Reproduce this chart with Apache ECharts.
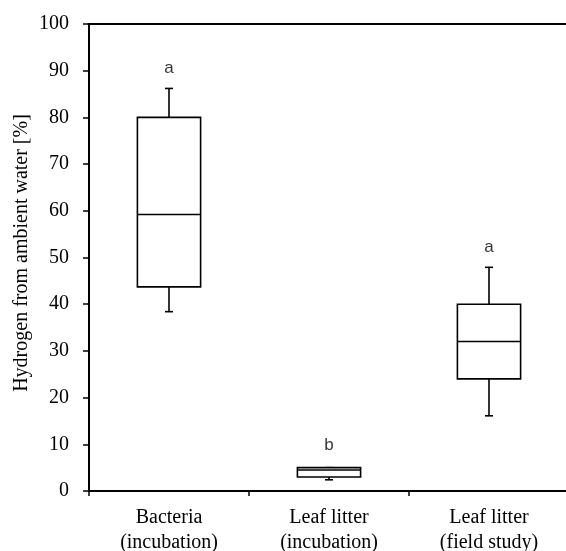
<!DOCTYPE html>
<html>
<head>
    <title>Hydrogen from ambient water</title>
    <script src="https://cdn.jsdelivr.net/npm/echarts@6/dist/echarts.min.js"></script>
    <style>body { margin: 0; background: #fff; }</style>
</head>
<body>
    <div id="chart" style="width: 566px; height: 551px;"></div>
    <script>
        // values
        var categories = ['Bacteria\n(incubation)', 'Leaf litter\n(incubation)', 'Leaf litter\n(field study)'];
        var whiskerLow = [38.4, 2.4, 16.1];
        var boxLow = [43.7, 3.0, 24.0];
        var medians = [59.2, 4.5, 32.0];
        var boxHigh = [80.0, 5.0, 40.0];
        var whiskerHigh = [86.2, 5.0, 47.9];
        var letters = ['a', 'b', 'a'];
        var letterY = [90.6, 9.8, 52.2];
        var yTicks = [0, 10, 20, 30, 40, 50, 60, 70, 80, 90, 100];

        var serif = '"Liberation Serif", "Times New Roman", serif';

        var boxData = categories.map(function (c, i) {
            return [i, whiskerLow[i], boxLow[i], medians[i], boxHigh[i], whiskerHigh[i]];
        });
        var letterData = categories.map(function (c, i) {
            return { value: [i, letterY[i]], label: { formatter: letters[i] } };
        });

        function renderBox(params, api) {
            var x = api.value(0);
            var pMin = api.coord([x, api.value(1)]);
            var pQ1 = api.coord([x, api.value(2)]);
            var pMed = api.coord([x, api.value(3)]);
            var pQ3 = api.coord([x, api.value(4)]);
            var pMax = api.coord([x, api.value(5)]);
            var half = api.size([1, 0])[0] * 0.395 / 2;
            var cap = 4;
            var cx = pMed[0];
            var st = { stroke: '#000', lineWidth: 1.6, fill: null };
            return {
                type: 'group',
                children: [
                    { type: 'line', shape: { x1: cx, y1: pQ3[1], x2: cx, y2: pMax[1] }, style: st },
                    { type: 'line', shape: { x1: cx - cap, y1: pMax[1], x2: cx + cap, y2: pMax[1] }, style: st },
                    { type: 'line', shape: { x1: cx, y1: pQ1[1], x2: cx, y2: pMin[1] }, style: st },
                    { type: 'line', shape: { x1: cx - cap, y1: pMin[1], x2: cx + cap, y2: pMin[1] }, style: st },
                    { type: 'rect', shape: { x: cx - half, y: pQ3[1], width: half * 2, height: pQ1[1] - pQ3[1] },
                      style: { stroke: '#000', lineWidth: 1.6, fill: '#fff' } },
                    { type: 'line', shape: { x1: cx - half, y1: pMed[1], x2: cx + half, y2: pMed[1] }, style: st }
                ]
            };
        }

        var chart = echarts.init(document.querySelector('#chart'));
        var option = {
            animation: false,
            grid: { left: 89, top: 24, width: 480, height: 467, containLabel: false, outerBoundsMode: 'none' },
            xAxis: [{
                type: 'category',
                data: categories,
                axisLine: { lineStyle: { color: '#000', width: 2 } },
                axisTick: { show: true, length: 5, lineStyle: { color: '#000', width: 1.5 } },
                axisLabel: { color: '#000', fontFamily: serif, fontSize: 20, lineHeight: 25, margin: 14 }
            }, {
                type: 'category',
                position: 'top',
                data: categories,
                axisLine: { lineStyle: { color: '#000', width: 2 } },
                axisTick: { show: false },
                axisLabel: { show: false }
            }],
            yAxis: {
                type: 'value',
                min: 0,
                max: 100,
                interval: 10,
                splitLine: { show: false },
                axisLine: { show: true, lineStyle: { color: '#000', width: 2 } },
                axisTick: { show: true, length: 6, lineStyle: { color: '#000', width: 1.5 } },
                axisLabel: {
                    color: '#000', fontFamily: serif, fontSize: 20, margin: 20,
                    formatter: function (v) { return yTicks.indexOf(v) >= 0 ? String(v) : ''; }
                }
            },
            graphic: [{
                type: 'text',
                x: 22,
                y: 253,
                rotation: Math.PI / 2,
                style: {
                    text: 'Hydrogen from ambient water [%]',
                    fill: '#000',
                    font: '20px ' + serif,
                    align: 'center',
                    verticalAlign: 'middle'
                }
            }],
            series: [{
                type: 'custom',
                renderItem: renderBox,
                encode: { x: 0, y: [1, 2, 3, 4, 5] },
                data: boxData
            }, {
                type: 'scatter',
                symbolSize: 0,
                data: letterData,
                label: {
                    show: true,
                    position: 'inside',
                    color: '#000',
                    fontFamily: '"Liberation Sans", Arial, sans-serif',
                    fontSize: 17
                }
            }]
        };
        chart.setOption(option);
    </script>
</body>
</html>
